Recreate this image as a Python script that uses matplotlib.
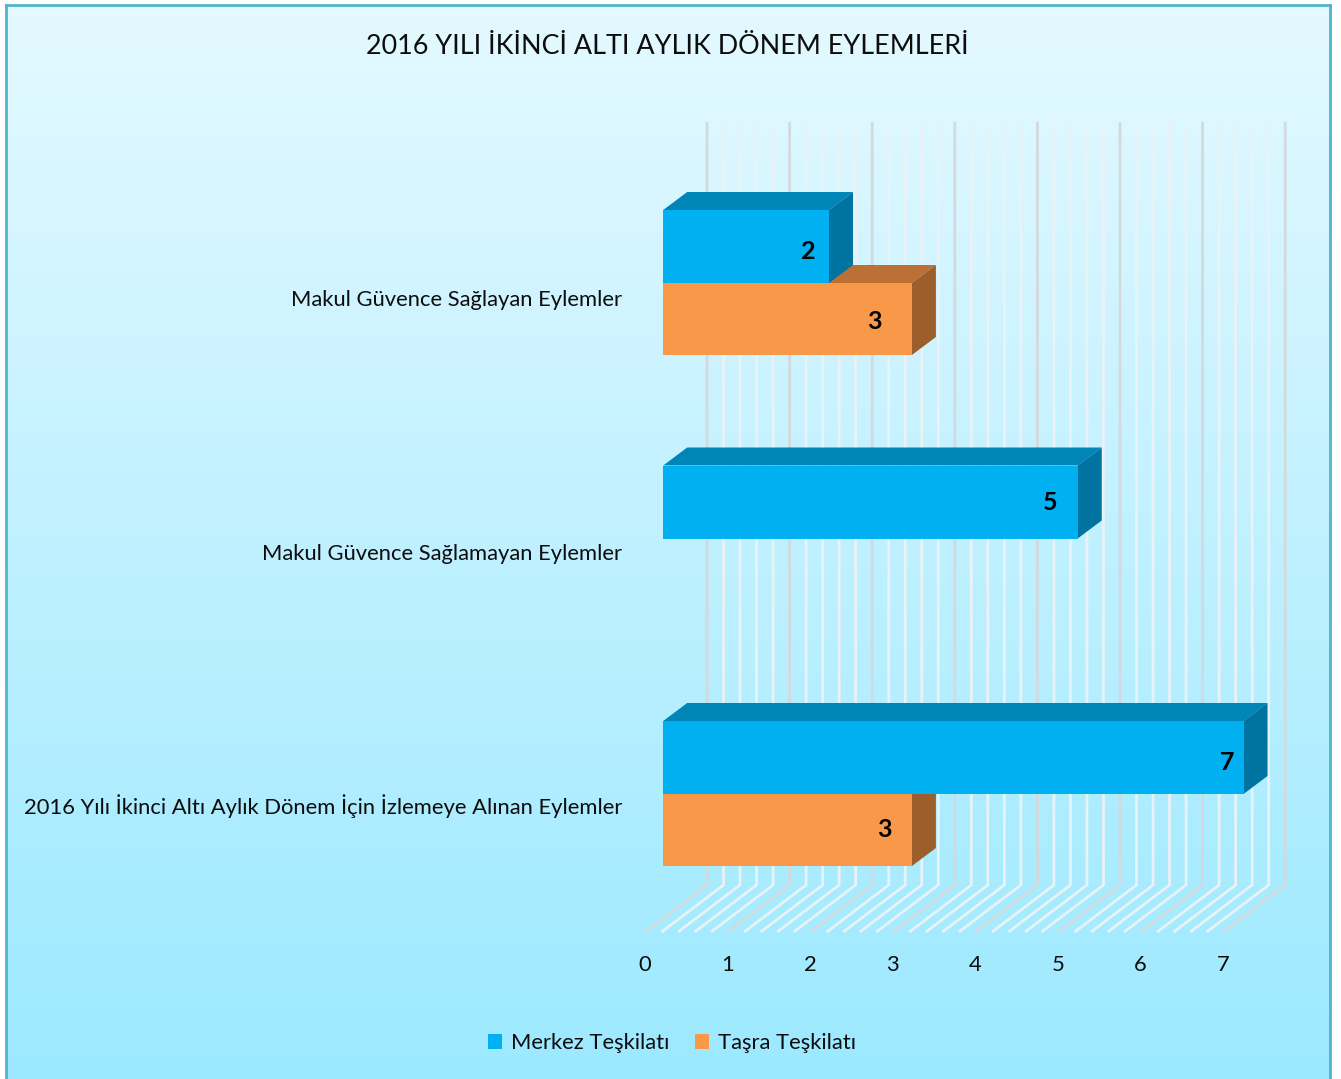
import numpy as np
import matplotlib.pyplot as plt
from matplotlib.colors import LinearSegmentedColormap
from matplotlib.patches import Polygon, Patch

plt.rcParams["font.family"] = ["Lato", "DejaVu Sans"]

title = "2016 YILI İKİNCİ ALTI AYLIK DÖNEM EYLEMLERİ"
categories = ["Makul Güvence Sağlayan Eylemler",
              "Makul Güvence Sağlamayan Eylemler",
              "2016 Yılı İkinci Altı Aylık Dönem İçin İzlemeye Alınan Eylemler"]
merkez = [2, 5, 7]
tasra = [3, 0, 3]
x_ticks = [0, 1, 2, 3, 4, 5, 6, 7]

W, H = 1341, 1079
UX = 82.9     # px per unit
UY = 255.5    # px per category
GRID_UX = 82.6
X0, Y0 = 663.2, 283

BLUE = ("#00B0F0", "#0086B6", "#0073A0")
ORANGE = ("#FA9849", "#BB7136", "#9C5F2B")


def dx(p):
    return p / UX


def dy(p):
    return p / UY


fig = plt.figure(figsize=(W / 100, H / 100), dpi=100, facecolor="white")

# panel with gradient
bg = fig.add_axes([5.5 / W, 0, 1324.5 / W, 1 - 4.5 / H])
cmap = LinearSegmentedColormap.from_list("bg", ["#E4F9FF", "#9CE9FF"])
bg.imshow(np.linspace(0, 1, 256).reshape(-1, 1), aspect="auto", cmap=cmap)
bg.set_xticks([])
bg.set_yticks([])
for s in ["left", "top", "right"]:
    bg.spines[s].set_color("#4FB4CF")
    bg.spines[s].set_linewidth(2)
bg.spines["bottom"].set_visible(False)

ax = fig.add_axes([0, 0, 1, 1])
ax.patch.set_alpha(0)
ax.axis("off")
ax.set_xlim(-X0 / UX, (W - X0) / UX)
ax.set_ylim((H - Y0) / UY, -Y0 / UY)

# wall and floor grid, five minor steps per unit
wall_top, wall_bot, floor_end = dy(122 - Y0), dy(885 - Y0), dy(932 - Y0)
wall_dx, floor_dx = dx(43.8), dx(-18.2)
for i in range(x_ticks[-1] * 5 + 1):
    v = i / 5 * GRID_UX / UX
    major = i % 5 == 0
    ax.plot([v + wall_dx, v + wall_dx, v + floor_dx],
            [wall_top, wall_bot, floor_end],
            color="#D3D9DC" if major else "#E9F2F6", lw=2.0,
            solid_joinstyle="miter", solid_capstyle="butt", zorder=1)


def bar3d(v, y_top, h, cols):
    d_x, d_y = dx(24), dy(18)
    y_bot = y_top + h
    ax.add_patch(Polygon([(0, y_top), (d_x, y_top - d_y), (v + d_x, y_top - d_y), (v, y_top)],
                         fc=cols[1], ec="none", zorder=3))
    ax.add_patch(Polygon([(v, y_top), (v + d_x, y_top - d_y), (v + d_x, y_bot - d_y), (v, y_bot)],
                         fc=cols[2], ec="none", zorder=3))
    ax.barh(y_top + h / 2, v, height=h, color=cols[0], zorder=3)


bar_h = dy(73)
orange_h = dy(72)
for i in range(len(categories)):
    if tasra[i] > 0:
        bar3d(tasra[i], i, orange_h, ORANGE)
for i in range(len(categories)):
    if merkez[i] > 0:
        bar3d(merkez[i], i - bar_h, bar_h, BLUE)

# data labels
merkez_off = [(-21, 5), (-27, 1), (-16, 5)]
tasra_off = [(-38, 2), None, (-28, -1)]
for i in range(len(categories)):
    ox, oy = merkez_off[i]
    ax.text(merkez[i] + dx(ox), i - bar_h / 2 + dy(oy), str(merkez[i]), fontsize=18,
            fontweight="bold", color="black", ha="center", va="center", zorder=5)
    if tasra[i] > 0:
        ox, oy = tasra_off[i]
        ax.text(tasra[i] + dx(ox), i + bar_h / 2 + dy(oy), str(tasra[i]), fontsize=18,
                fontweight="bold", color="black", ha="center", va="center", zorder=5)

# category labels
label_off = [17, 16, 12]
for i, c in enumerate(categories):
    ax.text(dx(622 - X0), i + dy(label_off[i]), c, fontsize=15.8, color="#0D0D0D",
            ha="right", va="center")

# x tick labels sit on the front of the floor
for t in x_ticks:
    ax.text(t * GRID_UX / UX + floor_dx, dy(965 - Y0), str(t), fontsize=15.8,
            color="#0D0D0D", ha="center", va="center")

ax.text(dx(667 - X0), dy(46 - Y0), title, fontsize=19.4, color="#0D0D0D", ha="center", va="center")

handles = [Patch(fc=BLUE[0], label="Merkez Teşkilatı"), Patch(fc=ORANGE[0], label="Taşra Teşkilatı")]
fig.legend(handles=handles, ncols=2, loc="center", bbox_to_anchor=(672 / W, 1 - 1043 / H),
           frameon=False, fontsize=15.8, handlelength=0.64, handleheight=0.64,
           handletextpad=0.4, columnspacing=1.2, labelcolor="#0D0D0D")

fig.savefig("out.png", dpi=100)
